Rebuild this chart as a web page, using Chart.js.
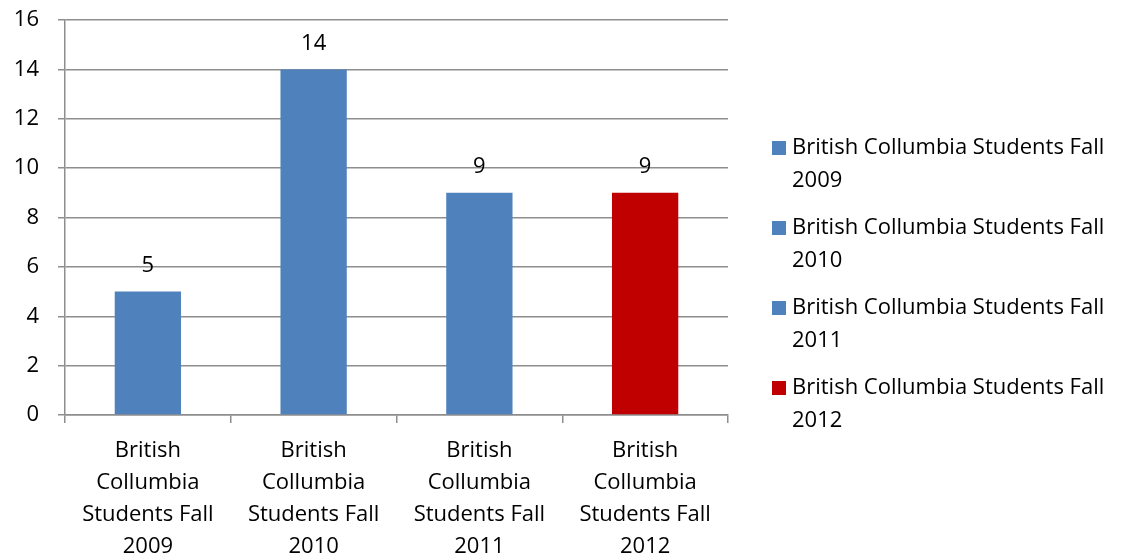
<!DOCTYPE html>
<html>
<head>
<meta charset="utf-8">
<script src="https://cdn.jsdelivr.net/npm/chart.js@4"></script>
<style>
  html, body { margin: 0; padding: 0; background: #fff; }
  #wrap { width: 1128px; height: 558px; }
</style>
</head>
<body>
<div id="wrap"><canvas id="chart" width="1128" height="558"></canvas></div>
<script>
const categories = [
  ["British", "Collumbia", "Students Fall", "2009"],
  ["British", "Collumbia", "Students Fall", "2010"],
  ["British", "Collumbia", "Students Fall", "2011"],
  ["British", "Collumbia", "Students Fall", "2012"],
];
const legendNames = [
  ["British Collumbia Students Fall", "2009"],
  ["British Collumbia Students Fall", "2010"],
  ["British Collumbia Students Fall", "2011"],
  ["British Collumbia Students Fall", "2012"],
];
const students = [5, 14, 9, 9];
const barColors = ["#4F81BD", "#4F81BD", "#4F81BD", "#C00000"];
const yTicks = [0, 2, 4, 6, 8, 10, 12, 14, 16];

const FONT = "'Open Sans', sans-serif";
const FSIZE = 22;
const GRID = "#8e8e8e";

// value above each bar
const valueLabels = {
  id: "valueLabels",
  afterDatasetsDraw(chart) {
    const ctx = chart.ctx;
    const meta = chart.getDatasetMeta(0);
    ctx.save();
    ctx.font = FSIZE + "px " + FONT;
    ctx.fillStyle = "#000";
    ctx.textAlign = "center";
    ctx.textBaseline = "middle";
    meta.data.forEach((bar, i) => {
      ctx.fillText(String(students[i]), bar.x, bar.y - 26);
    });
    ctx.restore();
  },
};

// legend on the right with wrapped names
const sideLegend = {
  id: "sideLegend",
  afterDraw(chart) {
    const ctx = chart.ctx;
    ctx.save();
    ctx.font = FSIZE + "px " + FONT;
    ctx.textBaseline = "middle";
    ctx.textAlign = "left";
    legendNames.forEach((lines, i) => {
      const y = 148 + i * 80;
      ctx.fillStyle = barColors[i];
      ctx.fillRect(772, y - 7, 14, 14);
      ctx.fillStyle = "#000";
      lines.forEach((t, j) => ctx.fillText(t, 792, y + j * 33));
    });
    ctx.restore();
  },
};

const ctx = document.getElementById("chart").getContext("2d");
new Chart(ctx, {
  type: "bar",
  data: {
    labels: categories,
    datasets: [
      {
        label: "Students",
        data: students,
        backgroundColor: barColors,
        borderWidth: 0,
        categoryPercentage: 1,
        barPercentage: 0.4,
      },
    ],
  },
  options: {
    responsive: false,
    animation: false,
    layout: { padding: { top: 20, right: 400, left: 0, bottom: 0 } },
    plugins: {
      legend: { display: false },
      tooltip: { enabled: false },
    },
    scales: {
      x: {
        afterFit: (s) => { s.height = 143; },
        grid: {
          offset: true,
          drawOnChartArea: false,
          drawTicks: true,
          tickLength: 8,
          color: GRID,
          lineWidth: 1.5,
        },
        border: { display: true, color: GRID, width: 1.5 },
        ticks: {
          color: "#000",
          font: { family: FONT, size: FSIZE, lineHeight: 1.45 },
          padding: 12,
          maxRotation: 0,
          autoSkip: false,
        },
      },
      y: {
        min: 0,
        max: 16,
        afterFit: (s) => { s.width = 65; s.paddingTop = 0; s.paddingBottom = 0; },
        afterBuildTicks: (s) => { s.ticks = yTicks.map((v) => ({ value: v })); },
        grid: {
          color: GRID,
          lineWidth: 1.5,
          drawTicks: true,
          tickLength: 7,
        },
        border: { display: true, color: GRID, width: 1.5 },
        ticks: {
          color: "#000",
          font: { family: FONT, size: FSIZE },
          padding: 19,
        },
      },
    },
  },
  plugins: [valueLabels, sideLegend],
});
</script>
</body>
</html>
